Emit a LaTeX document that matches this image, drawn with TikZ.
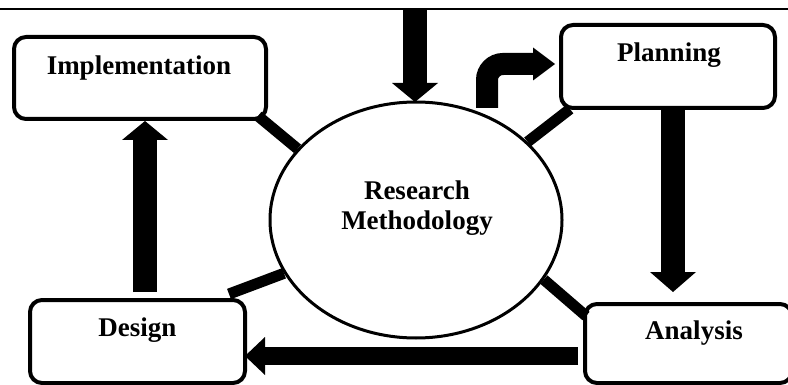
\documentclass[tikz,border=0pt]{standalone}
\usepackage{fontspec}
\setmainfont{Liberation Serif}
\usetikzlibrary{shapes.geometric,arrows.meta}
\begin{document}
\begin{tikzpicture}[x=1pt,y=-1pt,
  box/.style={draw,line width=4pt,rounded corners=12pt,inner sep=0pt},
  lbl/.style={font=\bfseries\fontsize{27}{30}\selectfont,inner sep=0pt,align=center},
  link/.style={line width=11pt},
  blk/.style={line width=24pt},
]
\useasboundingbox (0,0) rectangle (788,385);
\clip (0,0) rectangle (788,385);
\fill[white] (0,0) rectangle (788,385);

\coordinate (tl1) at (0,9);
\coordinate (tl2) at (788,9);
\draw[line width=2pt] (tl1) -- (tl2);

% boxes
\node[box,minimum width=252pt,minimum height=82pt] (impl) at (140,78) {};
\node[box,minimum width=214pt,minimum height=83pt] (plan) at (668,66.5) {};
\node[box,minimum width=215pt,minimum height=83pt] (design) at (137.5,341.5) {};
\node[box,minimum width=207pt,minimum height=79pt] (anal) at (688.5,343.5) {};
\node[draw,ellipse,line width=3pt,minimum width=292pt,minimum height=236pt,inner sep=0pt] (ell) at (416,220) {};

% labels
\node[lbl] (timpl) at (139,68) {Implementation};
\node[lbl] (tplan) at (669,55) {Planning};
\node[lbl] (tdesign) at (137.5,330) {Design};
\node[lbl] (tanal) at (694,333) {Analysis};
\node[lbl] (tell) at (417,208) {Research\\Methodology};

% links between ellipse and boxes
\draw[link] ([shift={(-10,-5)}]impl.south east) -- (ell.149);
\draw[link] ([shift={(11,-1)}]plan.south west) -- (ell.35);
\draw[link] ([shift={(-18,-4)}]design.north east) -- (ell.202);
\draw[link] ([shift={(3,14)}]anal.north west) -- (ell.335);

% block arrows
\coordinate (topsrc) at (415,9);
\coordinate (toptip) at (415,102);
\draw[blk,-{Triangle[width=46pt,length=19pt,line width=0pt]}] (topsrc) -- (toptip);

\coordinate (cstart) at (487,108);
\coordinate (ctip) at (555,64);
\draw[line width=22pt,rounded corners=16pt,-{Triangle[width=33pt,length=22pt,line width=0pt]}] (cstart) |- (ctip);

\coordinate (pa1) at (673,108);
\coordinate (pa2) at (673,292);
\draw[blk,-{Triangle[width=46pt,length=20pt,line width=0pt]}] (pa1) -- (pa2);

\coordinate (ad1) at (578,356);
\coordinate (ad2) at (245,356);
\draw[line width=18pt,-{Triangle[width=38pt,length=20pt,line width=0pt]}] (ad1) -- (ad2);

\coordinate (di1) at (145,292);
\coordinate (di2) at (145,121);
\draw[blk,-{Triangle[width=46pt,length=19pt,line width=0pt]}] (di1) -- (di2);
\end{tikzpicture}
\end{document}
